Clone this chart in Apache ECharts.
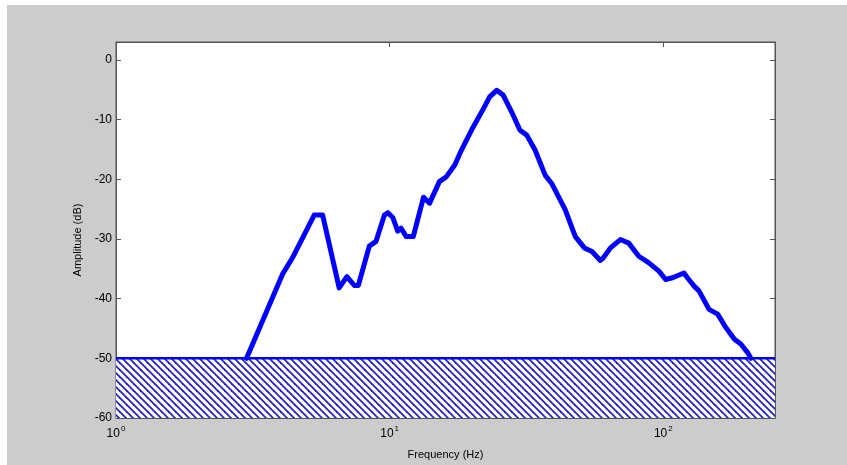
<!DOCTYPE html>
<html>
<head>
<meta charset="utf-8">
<script src="https://cdn.jsdelivr.net/npm/echarts@6/dist/echarts.min.js"></script>
<style>
  html, body { margin: 0; padding: 0; background: #ffffff; }
  #wrap { position: absolute; left: 7px; top: 5px; width: 840px; height: 460px; background: #cccccc; }
  #chart { width: 840px; height: 460px; }
</style>
</head>
<body>
<div id="wrap"><div id="chart"></div></div>
<script>
// spectrum (Hz, dB)
const freqHz = [3.0, 4.06, 4.41, 5.30, 5.69, 6.54, 6.98, 7.43, 7.68, 8.43, 8.92, 9.57, 9.85, 10.27, 10.7, 11.0,
    11.5, 12.2, 13.3, 14.0, 15.2, 16.1, 17.3, 18.3, 19.9, 22.0, 23.2, 24.6, 26.0, 27.9, 29.95, 31.7, 34.0,
    37.0, 39.1, 43.8, 47.7, 51.5, 54.9, 58.9, 60.3, 64.1, 69.7, 74.8, 81.4, 88.6, 96.4, 102, 108, 119,
    122.5, 129.6, 135, 147, 158, 169, 182, 192, 203, 209]
const amplitudeDb = [-50, -35.9, -33.2, -26.0, -26.0, -38.2, -36.3, -37.8, -37.8, -31.2, -30.4, -26.0, -25.6, -26.4, -28.7, -28.2,
    -29.6, -29.6, -23.0, -24.0, -20.4, -19.6, -17.6, -15.1, -11.8, -8.2, -6.2, -5.1, -5.9, -8.7, -11.8, -12.6, -15.1,
    -19.3, -20.7, -25.1, -29.6, -31.5, -32.1, -33.6, -33.2, -31.5, -30.1, -30.7, -32.9, -34.0, -35.4, -36.8, -36.5, -35.7,
    -36.5, -37.9, -38.7, -41.8, -42.6, -44.8, -46.8, -47.6, -49.0, -50.0]

// noise floor band (hatched)
const floorX = [1, 256]
const floorDb = [-50, -50]

const xRange = [1, 256]
const yRange = [-60, 3]
const yTicks = [0, -10, -20, -30, -40, -50, -60]

const axisCol = '#555555'
const blue = '#0000ff'

// diagonal hatch tile, lines running top-left -> bottom-right
const makeHatch = () => {
    const s = 7
    const c = document.createElement('canvas')
    c.width = s
    c.height = s
    const g = c.getContext('2d')
    g.fillStyle = '#ffffff'
    g.fillRect(0, 0, s, s)
    g.strokeStyle = '#2222c8'
    g.lineWidth = 1.8
    for (let k = -1; k <= 1; k++) {
        g.beginPath()
        g.moveTo(k * s - 1, -1)
        g.lineTo(k * s + s + 1, s + 1)
        g.stroke()
    }
    return c
}

const isDecade = (v) => Math.abs(Math.log10(v) - Math.round(Math.log10(v))) < 1e-6

const xLabel = (v) => (isDecade(v) ? '{b|10}{s|' + Math.round(Math.log10(v)) + '}' : '')

const chart = echarts.init(document.getElementById('chart'))

const xBase = {
    type: 'log',
    logBase: 10,
    min: xRange[0],
    max: xRange[1],
    axisLine: { show: true, onZero: false, lineStyle: { color: axisCol, width: 1 } },
    axisTick: { show: true, inside: true, length: 5, lineStyle: { color: axisCol } },
    splitLine: { show: false },
}

const yBase = {
    type: 'value',
    min: yRange[0],
    max: yRange[1],
    interval: 10,
    axisLine: { show: true, onZero: false, lineStyle: { color: axisCol, width: 1 } },
    axisTick: { show: true, inside: true, length: 5, lineStyle: { color: axisCol },
        customValues: yTicks },
    splitLine: { show: false },
}

chart.setOption({
    backgroundColor: '#cccccc',
    animation: false,
    textStyle: { fontFamily: 'Liberation Sans, Arial, sans-serif', color: '#000' },
    grid: { left: 109, top: 37, right: 72, bottom: 47, show: true, backgroundColor: '#ffffff',
        borderColor: axisCol, borderWidth: 1 },
    xAxis: [
        Object.assign({}, xBase, {
            position: 'bottom',
            name: 'Frequency (Hz)',
            nameLocation: 'middle',
            nameGap: 31,
            nameTextStyle: { fontSize: 11, color: '#000' },
            axisLabel: {
                formatter: xLabel,
                margin: 7,
                rich: {
                    b: { fontSize: 12, color: '#000', fontFamily: 'Liberation Sans, Arial, sans-serif' },
                    s: { fontSize: 8, color: '#000', fontFamily: 'Liberation Sans, Arial, sans-serif',
                        verticalAlign: 'bottom', padding: [0, 0, 9, 1] },
                },
            },
        }),
        Object.assign({}, xBase, { position: 'top', axisLabel: { show: false } }),
    ],
    yAxis: [
        Object.assign({}, yBase, {
            position: 'left',
            name: 'Amplitude (dB)',
            nameLocation: 'middle',
            nameGap: 30,
            nameTextStyle: { fontSize: 11, color: '#000', padding: [0, 0, 0, -20] },
            axisLabel: { fontSize: 12, color: '#000', margin: 4,
                customValues: yTicks },
        }),
        Object.assign({}, yBase, { position: 'right', axisLabel: { show: false } }),
    ],
    series: [
        {
            name: 'floor',
            type: 'line',
            data: floorX.map((x, i) => [x, floorDb[i]]),
            symbol: 'none',
            silent: true,
            z: 2,
            lineStyle: { color: blue, width: 2.5 },
            areaStyle: { origin: 'start', opacity: 1, color: { image: makeHatch(), repeat: 'repeat' } },
        },
        {
            name: 'spectrum',
            type: 'line',
            data: freqHz.map((f, i) => [f, amplitudeDb[i]]),
            symbol: 'none',
            z: 3,
            lineStyle: { color: blue, width: 5, join: 'round', cap: 'round' },
        },
    ],
})
</script>
</body>
</html>
